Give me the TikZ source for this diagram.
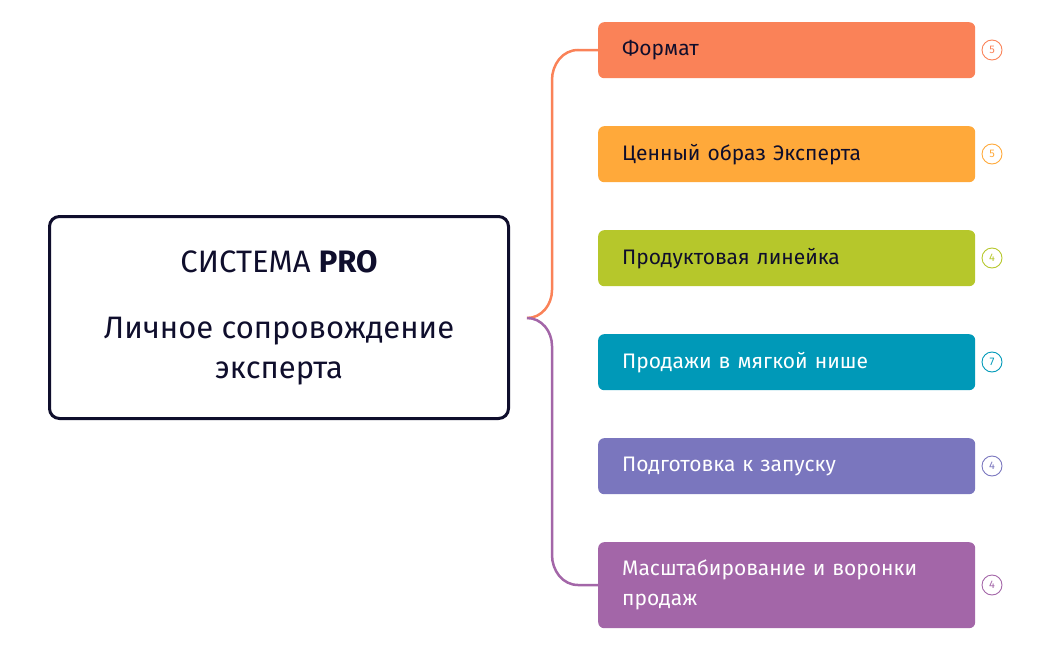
\documentclass[tikz,border=0pt]{standalone}
\usepackage{fontspec}
\setmainfont{Fira Sans}
\begin{document}
\begin{tikzpicture}[x=1pt,y=-1pt,
  item/.style={rounded corners=6pt,minimum width=377pt,anchor=north west,align=left,text width=329pt,inner xsep=24pt,font=\fontsize{21}{25}\selectfont},
  cnt/.style={circle,draw,line width=0.9pt,minimum size=20pt,inner sep=0pt,font=\fontsize{11}{12}\selectfont}]
\definecolor{c1}{HTML}{FA8258}
\definecolor{c2}{HTML}{FFA93A}
\definecolor{c3}{HTML}{B6C72B}
\definecolor{c4}{HTML}{0099B8}
\definecolor{c5}{HTML}{7A76BE}
\definecolor{c6}{HTML}{A366A8}
\definecolor{navy}{HTML}{0F0E2C}
\useasboundingbox (0,0) rectangle (1050,650);
\node[draw=navy,line width=3pt,rounded corners=10pt,minimum width=459pt,minimum height=202pt,align=center,font=\fontsize{31}{40}\selectfont,text=navy] (main) at (279,317.5)
 {СИСТЕМА \textbf{PRO}\\[26pt]Личное сопровождение\\эксперта};
\coordinate (mid) at (527,318);
\node[item,fill=c1,minimum height=56pt,text=navy] (b1) at (598,22) {Формат};
\node[item,fill=c2,minimum height=56pt,text=navy] (b2) at (598,126) {Ценный образ Эксперта};
\node[item,fill=c3,minimum height=56pt,text=navy] (b3) at (598,230) {Продуктовая линейка};
\node[item,fill=c4,minimum height=56pt,text=white] (b4) at (598,334) {Продажи в мягкой нише};
\node[item,fill=c5,minimum height=56pt,text=white] (b5) at (598,438) {Подготовка к запуску};
\node[item,fill=c6,minimum height=86pt,text=white,font=\fontsize{21}{30}\selectfont] (b6) at (598,542) {Масштабирование и воронки продаж};
\node[cnt,draw=c1,text=c1] (n1) at (992,50) {5};
\node[cnt,draw=c2,text=c2] (n2) at (992,154) {5};
\node[cnt,draw=c3,text=c3] (n3) at (992,258) {4};
\node[cnt,draw=c4,text=c4] (n4) at (992,362) {7};
\node[cnt,draw=c5,text=c5] (n5) at (992,466) {4};
\node[cnt,draw=c6,text=c6] (n6) at (992,585) {4};
\draw[c1,line width=2.5pt] (b1.west) -- (578,50) to[out=180,in=90] (552,80) -- (552,290) to[out=270,in=0] (mid);
\draw[c6,line width=2.5pt] (mid) to[out=0,in=90] (552,346) -- (552,555) to[out=270,in=180] (578,585) -- (b6.west);
\end{tikzpicture}
\end{document}
